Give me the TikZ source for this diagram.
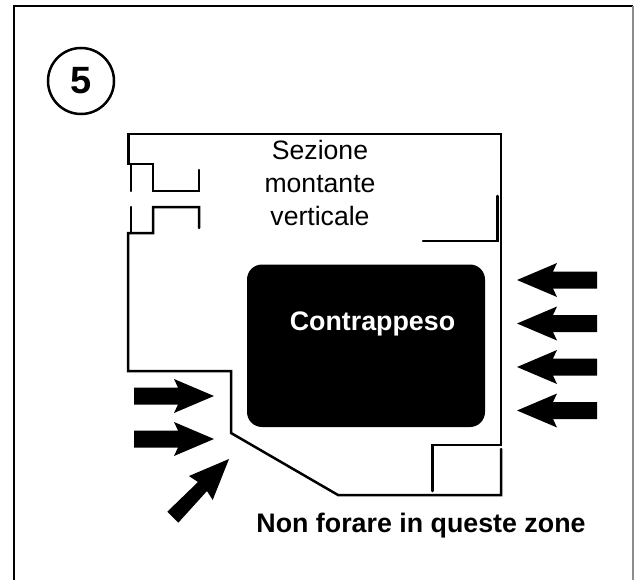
\documentclass[tikz,border=0pt]{standalone}
\usepackage{fontspec}
\setmainfont{Liberation Sans}
\tikzset{
  wall/.style={draw=black,line width=2.5pt,line cap=round,line join=miter},
  frame/.style={draw=black,line width=2.6pt},
  lbl/.style={inner sep=0pt,font=\fontsize{26.6}{33}\selectfont,align=center},
  blbl/.style={inner sep=0pt,font=\fontsize{26.8}{33}\selectfont\bfseries},
  blockarrow/.style={fill=black,draw=none}
}
\newcommand{\leftarr}[1]{\fill[blockarrow] (517,#1) -- (557,#1-17) -- (553,#1-8.5) -- (597,#1-8.5) -- (597,#1+8.5) -- (553,#1+8.5) -- (557,#1+17) -- cycle;}
\newcommand{\rightarr}[1]{\fill[blockarrow] (214,#1) -- (174,#1-17) -- (178,#1-8.5) -- (134,#1-8.5) -- (134,#1+8.5) -- (178,#1+8.5) -- (174,#1+17) -- cycle;}
\begin{document}
\begin{tikzpicture}[x=1pt,y=-1pt]
\useasboundingbox (0,0) rectangle (634,580);
\draw[frame] (14,582) -- (14,6) -- (633,6);
\draw[draw=black!45,line width=1.2pt] (633,6) -- (633,582);
\node[circle,draw=black,line width=2.5pt,minimum size=66pt,inner sep=0pt,font=\fontsize{38}{38}\selectfont\bfseries] (num) at (81,81) {5};
% enclosure
\draw[wall] (199,170) -- (199,191) -- (153,191) -- (153,164) -- (128.5,164) -- (128.5,134) -- (501,134) -- (501,445) -- (432.5,445) -- (432.5,491);
\draw[wall] (501,449) -- (501,495) -- (338,495) -- (231,433) -- (231,371) -- (128,371) -- (128,233) -- (153,233) -- (153,207) -- (199,207) -- (199,228);
\draw[wall] (131,164) -- (131,191);
\draw[wall] (131,207) -- (131,233);
\draw[wall] (497.5,196) -- (497.5,241) -- (423,241);
% counterweight
\fill[black,rounded corners=15pt] (247,264.5) rectangle (485,427);
\node[blbl,text=white] (cw) at (372.5,324) {Contrappeso};
\node[lbl] (sez) at (320,183) {Sezione\\montante\\verticale};
\node[blbl] (note) at (421,526) {Non forare in queste zone};
\leftarr{280}\leftarr{323.5}\leftarr{367}\leftarr{410.5}
\rightarr{396}\rightarr{439}
\fill[blockarrow] (229,459) -- (189,476) -- (198,482) -- (167.3,511.7) -- (178.3,522.7) -- (207,491) -- (212.7,500) -- cycle;
\end{tikzpicture}
\end{document}
